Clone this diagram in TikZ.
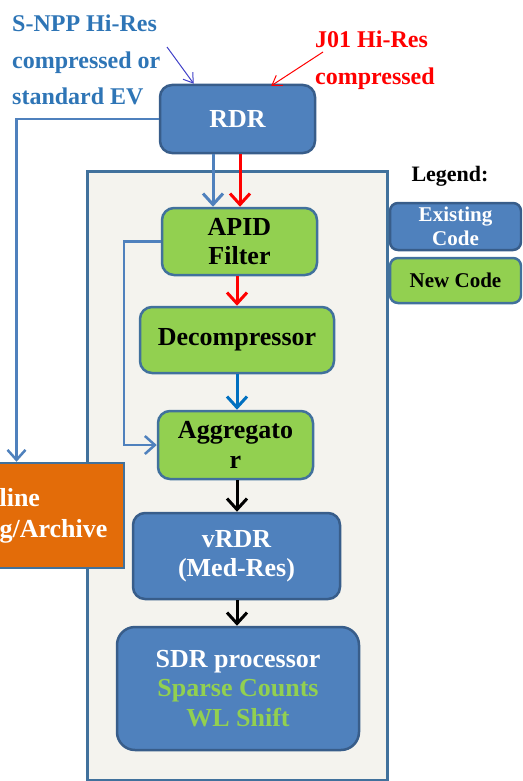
\documentclass[tikz,border=0pt]{standalone}
\usepackage{fontspec}
\setmainfont{Liberation Serif}
\usepackage{xcolor}
\usetikzlibrary{positioning,arrows.meta}

\definecolor{oldblue}{HTML}{4F81BD}
\definecolor{oldedge}{HTML}{385D8A}
\definecolor{newgreen}{HTML}{92D050}
\definecolor{panelfill}{HTML}{F4F3EE}
\definecolor{paneledge}{HTML}{41719C}
\definecolor{labelblue}{HTML}{2E75B6}
\definecolor{archorange}{HTML}{E36C09}
\definecolor{flowblue}{HTML}{0070C0}
\definecolor{inkblue}{HTML}{4040C8}

\begin{document}
\begin{tikzpicture}[x=1pt,y=1pt,
  existing/.style={draw=oldedge,line width=2.5pt,fill=oldblue,rounded corners=12pt,
    text=white,align=center,inner sep=0pt,font=\bfseries\fontsize{26}{29.5}\selectfont},
  newcode/.style={existing,fill=newgreen,draw=paneledge,text=black},
  legendbox/.style={existing,rounded corners=8pt,font=\bfseries\fontsize{21}{24}\selectfont},
  flow/.style={line width=3pt,-{Straight Barb[length=11pt,width=20pt]}},
  feed/.style={line width=2.5pt,draw=oldblue,-{Straight Barb[length=10pt,width=18pt]}},
  thinin/.style={line width=1pt,-{Straight Barb[length=9pt,width=12pt]}},
  inlabel/.style={align=left,inner sep=0pt,font=\bfseries\fontsize{24}{36.5}\selectfont}]

  \useasboundingbox (0,0) rectangle (522,-781);
  \clip (0,0) rectangle (522,-781);

  % ---------- processing panel ----------
  \node[draw=paneledge,line width=3pt,fill=panelfill,minimum width=300pt,
        minimum height=609pt] (panel) at (237,-475.5) {};

  % ---------- inputs ----------
  \node[inlabel,text=labelblue,anchor=north west] (snpp) at (12,-15)
    {S-NPP Hi-Res\\compressed or\\standard EV};
  \node[inlabel,text=red,anchor=north west] (jone) at (315,-31)
    {J01 Hi-Res\\compressed};
  \coordinate (snppTail) at (167,-47);
  \coordinate (joneTail) at (323,-52);

  % ---------- boxes ----------
  \node[existing,minimum width=155pt,minimum height=68pt] (rdr) at (237.5,-119) {RDR};
  \node[newcode,minimum width=155pt,minimum height=67pt] (apid) at (239.5,-241.5) {APID\\Filter};
  \node[newcode,minimum width=194pt,minimum height=66pt] (decomp) at (237,-340) {Decompressor};
  \node[newcode,minimum width=155pt,minimum height=68pt] (aggr) at (235.5,-445) {Aggregato\\r};
  \node[existing,minimum width=207pt,minimum height=86pt] (vrdr) at (236.5,-556) {vRDR\\(Med-Res)};
  \node[existing,rounded corners=18pt,minimum width=242pt,minimum height=123pt] (sdr) at (238,-688.5)
    {SDR processor\\\textcolor{newgreen}{Sparse Counts}\\\textcolor{newgreen}{WL Shift}};
  % archive box runs off the left edge
  \node[existing,rounded corners=0pt,fill=archorange,draw=paneledge,minimum width=234pt,
        minimum height=105pt] (archive) at (7,-515.5) {};
  \node[align=center,text=white,font=\bfseries\fontsize{26}{31}\selectfont]
    (archiveText) at ([xshift=-6pt]archive.center) {Offline\\Processing/Archive};

  % ---------- legend ----------
  \node[font=\bfseries\fontsize{22}{24}\selectfont] (legend) at (450,-176) {Legend:};
  \node[legendbox,minimum width=131pt,minimum height=47pt] (legOld) at (455.5,-226.5) {Existing\\Code};
  \node[legendbox,fill=newgreen,draw=paneledge,text=black,minimum width=131pt,
        minimum height=45pt] (legNew) at (455.5,-280.5) {New Code};

  % ---------- connectors ----------
  \draw[thinin,inkblue] (snppTail) -- ([xshift=35pt]rdr.north west);
  \draw[thinin,red] (joneTail) -- ([xshift=-45pt,yshift=-2pt]rdr.north east);

  \draw[flow,oldblue] ([xshift=-24.5pt]rdr.south) -- ([xshift=-24.5pt]rdr.south |- apid.north);
  \draw[flow,red] ([xshift=2.5pt]rdr.south) -- ([xshift=2.5pt]rdr.south |- apid.north);
  \draw[flow,red] ([xshift=-2.5pt]apid.south) -- ([xshift=-2.5pt]apid.south |- decomp.north);
  \draw[flow,flowblue] (decomp.south) -- (decomp.south |- aggr.north);
  \draw[flow,black] ([xshift=1.5pt]aggr.south) -- ([xshift=1.5pt]aggr.south |- vrdr.north);
  \draw[flow,black] ([xshift=0.5pt]vrdr.south) -- ([xshift=0.5pt]vrdr.south |- sdr.north);

  \draw[feed] (rdr.west) -| ([xshift=9.5pt]archive.north);
  \draw[feed] (apid.west) -- ++(-37,0) |- (aggr.west);

\end{tikzpicture}
\end{document}
